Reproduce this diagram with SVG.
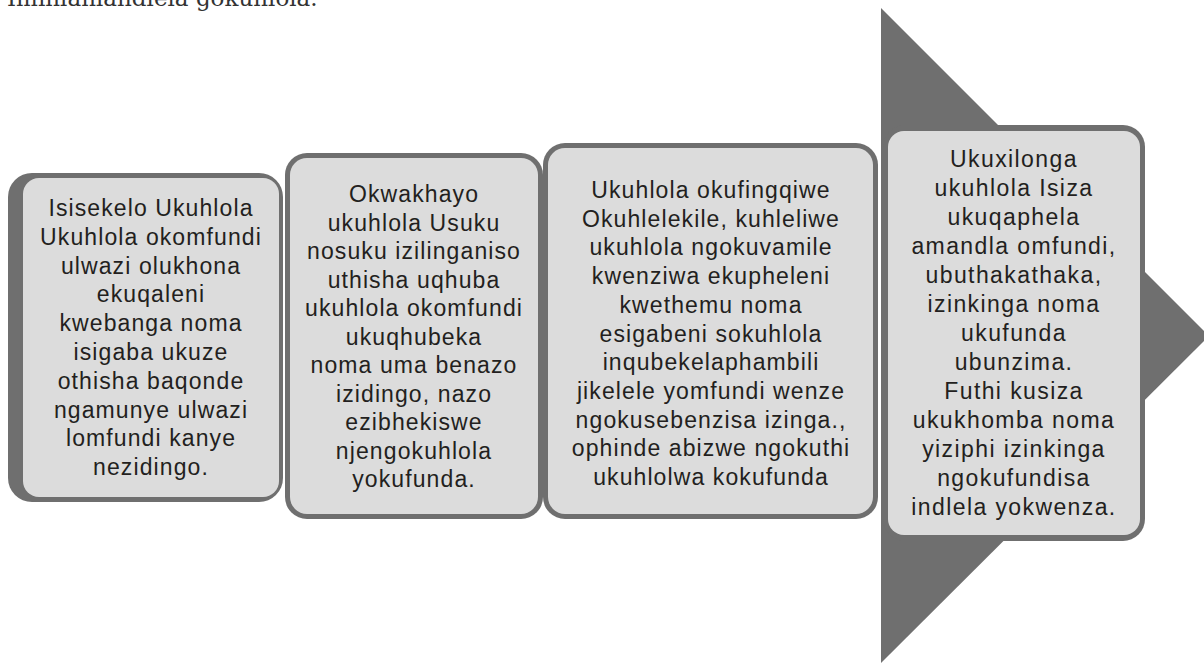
<svg xmlns="http://www.w3.org/2000/svg" width="1204" height="665" viewBox="0 0 1204 665">
<style>
.edge{fill:#6f6f6f}
.face{fill:#dcdcdc}
.lbl{font-family:"Liberation Sans",Arial,sans-serif;font-size:23px;fill:#231f20;text-anchor:middle;letter-spacing:1.1px}
.wide{letter-spacing:1.4px}
.title{font-family:"DejaVu Serif",serif;font-size:23px;fill:#333333}
</style>
<rect width="1204" height="665" fill="#ffffff"/>
<text class="title" x="7" y="6">Imihlahlandlela gokuhlola.</text>
<g id="connectors">
<polygon id="arrow" class="edge" points="881,8 1209,336 881,663"/>
</g>
<g id="node1">
<rect class="edge" x="8" y="173" width="275" height="329" rx="24"/>
<rect class="face" x="23" y="178" width="256" height="319" rx="16"/>
<text class="lbl"><tspan x="151" y="216">Isisekelo Ukuhlola</tspan><tspan x="151" dy="28.8">Ukuhlola okomfundi</tspan><tspan x="151" dy="28.8">ulwazi olukhona</tspan><tspan x="151" dy="28.8">ekuqaleni</tspan><tspan x="151" dy="28.8">kwebanga noma</tspan><tspan x="151" dy="28.8">isigaba ukuze</tspan><tspan x="151" dy="28.8">othisha baqonde</tspan><tspan x="151" dy="28.8">ngamunye ulwazi</tspan><tspan x="151" dy="28.8">lomfundi kanye</tspan><tspan x="151" dy="28.8">nezidingo.</tspan></text>
</g>
<g id="node2">
<rect class="edge" x="285" y="153" width="258" height="366" rx="22"/>
<rect class="face" x="290" y="158" width="248" height="356" rx="17"/>
<text class="lbl"><tspan x="414" y="202">Okwakhayo</tspan><tspan x="414" dy="28.5">ukuhlola Usuku</tspan><tspan x="414" dy="28.5">nosuku izilinganiso</tspan><tspan x="414" dy="28.5">uthisha uqhuba</tspan><tspan x="414" dy="28.5">ukuhlola okomfundi</tspan><tspan x="414" dy="28.5">ukuqhubeka</tspan><tspan x="414" dy="28.5">noma uma benazo</tspan><tspan x="414" dy="28.5">izidingo, nazo</tspan><tspan x="414" dy="28.5">ezibhekiswe</tspan><tspan x="414" dy="28.5">njengokuhlola</tspan><tspan x="414" dy="28.5">yokufunda.</tspan></text>
</g>
<g id="node3">
<rect class="edge" x="543" y="143" width="335" height="376" rx="22"/>
<rect class="face" x="548" y="148" width="325" height="366" rx="17"/>
<text class="lbl"><tspan x="711" y="198">Ukuhlola okufingqiwe</tspan><tspan x="711" dy="28.7">Okuhlelekile, kuhleliwe</tspan><tspan x="711" dy="28.7">ukuhlola ngokuvamile</tspan><tspan x="711" dy="28.7">kwenziwa ekupheleni</tspan><tspan x="711" dy="28.7">kwethemu noma</tspan><tspan x="711" dy="28.7">esigabeni sokuhlola</tspan><tspan x="711" dy="28.7">inqubekelaphambili</tspan><tspan x="711" dy="28.7">jikelele yomfundi wenze</tspan><tspan x="711" dy="28.7">ngokusebenzisa izinga.,</tspan><tspan x="711" dy="28.7">ophinde abizwe ngokuthi</tspan><tspan x="711" dy="28.7">ukuhlolwa kokufunda</tspan></text>
</g>
<g id="node4">
<rect class="edge" x="883" y="125" width="262" height="416" rx="22"/>
<rect class="face" x="888" y="131" width="252" height="404" rx="16"/>
<text class="lbl wide"><tspan x="1014" y="167">Ukuxilonga</tspan><tspan x="1014" dy="29">ukuhlola Isiza</tspan><tspan x="1014" dy="29">ukuqaphela</tspan><tspan x="1014" dy="29">amandla omfundi,</tspan><tspan x="1014" dy="29">ubuthakathaka,</tspan><tspan x="1014" dy="29">izinkinga noma</tspan><tspan x="1014" dy="29">ukufunda</tspan><tspan x="1014" dy="29">ubunzima.</tspan><tspan x="1014" dy="29">Futhi kusiza</tspan><tspan x="1014" dy="29">ukukhomba noma</tspan><tspan x="1014" dy="29">yiziphi izinkinga</tspan><tspan x="1014" dy="29">ngokufundisa</tspan><tspan x="1014" dy="29">indlela yokwenza.</tspan></text>
</g>
</svg>
